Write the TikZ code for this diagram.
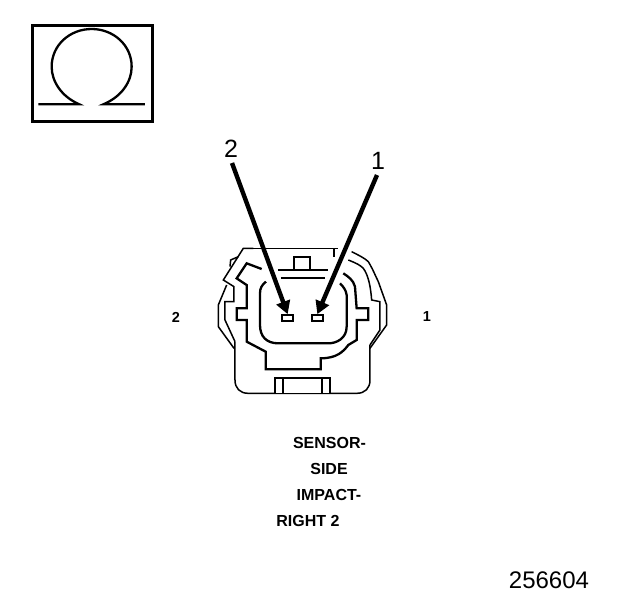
\documentclass[tikz,border=0pt]{standalone}
\usepackage{fontspec}
\setmainfont{Liberation Sans}
\usetikzlibrary{arrows.meta}
\tikzset{
  thinl/.style={line width=1.5pt,line join=miter},
  thickl/.style={line width=2.3pt,line join=miter},
  lead/.style={line width=4.4pt,-{Triangle[length=13pt,width=14pt]}},
  lab/.style={font=\bfseries\fontsize{14.5}{16}\selectfont,inner sep=0pt},
  captxt/.style={font=\bfseries\fontsize{16}{18}\selectfont,inner sep=0pt},
  big/.style={font=\fontsize{25}{27}\selectfont,inner sep=0pt},
}
\begin{document}
\begin{tikzpicture}[x=1pt,y=-1pt]
\useasboundingbox (0,0) rectangle (624,600);
% ohm box
\draw[line width=3pt] (32,25) rectangle (152,121);
\begin{scope}[shift={(20,15)},x=0.3333pt,y=-0.3333pt]
\draw[line width=2.3pt] (55,268) -- (178,268) .. controls (125,245) and (95,200) .. (95,155)
  .. controls (95,90) and (150,42) .. (215,42) .. controls (280,42) and (335,90) .. (335,155)
  .. controls (335,200) and (305,245) .. (250,268) -- (375,268);
\end{scope}
% connector
\begin{scope}[shift={(200,230)},x=0.3333pt,y=-0.3333pt]
\draw[thinl] (130,55) -- (415,55) (402,55) -- (402,80);
\draw[thinl] (160,55) -- (130,55) -- (70,150) -- (102,170) -- (102,215) -- (75,215) -- (75,270) -- (105,335);
\draw[thinl] (80,165) -- (55,225) -- (55,290) -- (102,355);
\draw[thinl] (115,80) -- (92,90) -- (90,110);
\draw[thinl] (105,335) -- (105,450) .. controls (105,475) and (120,490) .. (145,490) -- (470,490) .. controls (495,490) and (510,475) .. (510,450) -- (510,345);
\draw[thinl] (445,90) .. controls (470,100) and (480,105) .. (490,115) .. controls (505,135) and (512,170) .. (515,210) -- (540,215) -- (540,300) -- (510,345);
\draw[thinl] (455,65) .. controls (475,75) and (495,85) .. (505,95) .. controls (520,120) and (525,135) .. (535,155) -- (560,225) -- (560,285) -- (510,355);
\draw[thickl] (185,117) -- (140,100) -- (110,145) -- (140,165) -- (140,235) -- (110,235) -- (110,270) -- (140,270) -- (140,335) -- (197,365) -- (197,418) -- (362,418) -- (362,385) .. controls (410,385) and (430,365) .. (445,345) -- (470,330) -- (470,270) -- (505,270) -- (505,235) -- (470,235) -- (465,170) .. controls (460,150) and (445,140) .. (430,130);
\draw[thickl] (235,120) -- (385,120) (243,145) -- (375,145);
\draw[thickl] (283,120) -- (283,82) -- (330,82) -- (330,120);
\draw[thickl] (198,155) .. controls (185,165) and (180,175) .. (180,190) -- (180,285) .. controls (180,320) and (200,340) .. (235,340) -- (385,340) .. controls (410,340) and (440,325) .. (440,290) -- (440,195) .. controls (438,180) and (430,170) .. (420,160);
\node[draw,thickl,inner sep=0pt,rectangle] (pinb) at (263,265) {\rule{0pt}{6pt}\rule{11pt}{0pt}};
\node[draw,thickl,inner sep=0pt,rectangle] (pina) at (352,265) {\rule{0pt}{6pt}\rule{11pt}{0pt}};
\draw[thickl,fill=white] (225,490) -- (225,443) -- (390,443) -- (390,490);
\draw[thickl] (248,443) -- (248,490) (367,443) -- (367,490);
\end{scope}
% leads
\coordinate (s2) at (232,163);
\coordinate (s1) at (377,175);
\draw[lead] (s2) -- (pinb.north);
\draw[lead] (s1) -- (pina.north);
% labels
\node[big] (n2) at (231,149) {2};
\node[big] (n1) at (378,161) {1};
\node[lab] (l2) at (176,317) {2};
\node[lab] (l1) at (427,317) {1};
\node[captxt] (t1) at (329.5,443) {SENSOR-};
\node[captxt] (t2) at (329,469) {SIDE};
\node[captxt] (t3) at (329,495) {IMPACT-};
\node[captxt] (t4) at (308,521) {RIGHT 2};
\node[font=\fontsize{24}{26}\selectfont,inner sep=0pt] (num) at (549,580) {256604};
\end{tikzpicture}
\end{document}
